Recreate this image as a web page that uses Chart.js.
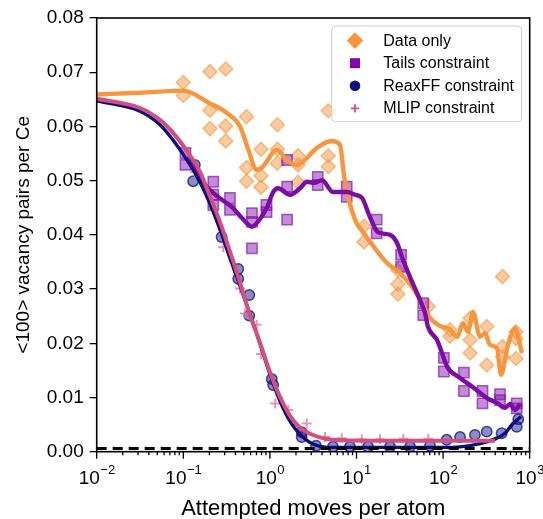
<!DOCTYPE html>
<html>
<head>
<meta charset="utf-8">
<script src="https://cdn.jsdelivr.net/npm/chart.js@4/dist/chart.umd.min.js"></script>
<style>
  html, body { margin: 0; padding: 0; background: #ffffff; }
  #wrap { width: 543px; height: 519px; }
</style>
</head>
<body>
<div id="wrap"><canvas id="VacancyChart" width="543" height="519"></canvas></div>
<script>
(function () {
  "use strict";

  // Data only (diamonds)
  const dataOnlyX = [0.1, 0.1, 0.203, 0.203, 0.203, 0.309, 0.309, 0.309, 0.537, 0.537, 0.537,
    0.789, 0.789, 0.789, 1.22, 1.22, 1.22, 2.11, 2.11, 2.11, 4.72, 4.72, 4.72, 12.2, 12.2,
    30.1, 30.1, 30.1, 67.5, 120, 120, 205, 205, 205, 319, 319, 485, 485, 485, 695, 695, 695];
  const dataOnlyY = [0.0681, 0.0657, 0.0701, 0.0630, 0.0596, 0.0706, 0.0601, 0.0573, 0.0618, 0.0524, 0.0499,
    0.0558, 0.0509, 0.0488, 0.0603, 0.0558, 0.0532, 0.0546, 0.0529, 0.0497, 0.0629, 0.0546, 0.0526, 0.0416, 0.0387,
    0.0335, 0.0309, 0.0291, 0.0268, 0.0225, 0.0213, 0.0246, 0.0206, 0.0182, 0.0231, 0.0160, 0.0323, 0.0194, 0.0175,
    0.0221, 0.0209, 0.0172];

  // Tails constraint (squares)
  const tailsX = [0.106, 0.106, 0.222, 0.222, 0.222, 0.346, 0.346, 0.621, 0.621, 0.621, 0.913, 0.913,
    1.58, 1.58, 1.58, 3.57, 3.57, 7.71, 7.71, 17.1, 17.1, 32.7, 32.7, 59.0, 59.0, 102, 102,
    174, 174, 285, 285, 454, 454, 708, 708];
  const tailsY = [0.0551, 0.0529, 0.0498, 0.0474, 0.0455, 0.0468, 0.0446, 0.0440, 0.0424, 0.0375, 0.0455, 0.0442,
    0.0538, 0.0489, 0.0428, 0.0507, 0.0492, 0.0489, 0.0470, 0.0428, 0.0403, 0.0363, 0.0341, 0.0274, 0.0252,
    0.0173, 0.0148, 0.0146, 0.0112, 0.0112, 0.0089, 0.0106, 0.0095, 0.0089, 0.0080];

  // ReaxFF constraint (circles)
  const reaxX = [0.136, 0.130, 0.277, 0.431, 0.431, 0.578, 0.578, 1.05, 1.09, 2.33, 2.33,
    3.41, 5.35, 8.41, 13.6, 24.4, 41.5, 70.6, 110, 157, 233, 319, 475, 708, 738];
  const reaxY = [0.0529, 0.0499, 0.0396, 0.0337, 0.0319, 0.0289, 0.0251, 0.0134, 0.0123, 0.0036, 0.0027,
    0.0011, 0.0009, 0.0009, 0.0009, 0.0009, 0.0009, 0.0011, 0.0022, 0.0027, 0.0031, 0.0037, 0.0034, 0.0046, 0.0060];

  // MLIP constraint (pluses)
  const mlipX = [0.136, 0.290, 0.452, 0.515, 0.705, 0.789, 1.15, 1.63, 2.66, 4.33, 6.75, 11.5, 18.7, 34.7, 67.5];
  const mlipY = [0.0516, 0.0377, 0.0301, 0.0255, 0.0234, 0.0180, 0.0089, 0.0077, 0.0052, 0.0027, 0.0025,
    0.0023, 0.0023, 0.0024, 0.0024];

  // fitted curves
  const dataOnlyFitX = [0.01, 0.0316, 0.1, 0.2, 0.317, 0.452, 0.564, 0.705, 0.832, 1.2, 1.56, 2.04, 2.41, 3.47,
    5.17, 6.45, 7.18, 8.19, 9.87, 11.9, 15.5, 22.5, 31.8, 43.8, 57.0, 70.6, 92.0, 120, 145, 170, 194, 221,
    267, 305, 348, 419, 466, 561, 676, 815];
  const dataOnlyFitY = [0.0659, 0.0662, 0.0666, 0.0643, 0.0625, 0.0600, 0.0557, 0.0520, 0.0526, 0.0557, 0.0538,
    0.0529, 0.0535, 0.0560, 0.0573, 0.0566, 0.0509, 0.0464, 0.0424, 0.0405, 0.0380, 0.0348, 0.0330, 0.0304,
    0.0274, 0.0247, 0.0232, 0.0226, 0.0212, 0.0237, 0.0221, 0.0258, 0.0212, 0.0219, 0.0197, 0.0191, 0.0142,
    0.0197, 0.0228, 0.0182];

  const tailsFitX = [0.107, 0.129, 0.188, 0.252, 0.365, 0.476, 0.621, 0.710, 0.927, 1.09, 1.24, 1.71, 2.23,
    2.68, 3.23, 4.00, 5.35, 7.77, 9.61, 11.6, 14.3, 17.7, 24.4, 29.4, 34.4, 41.5, 54.1, 61.8, 67.0, 85.1,
    97.1, 111, 157, 221, 321, 419, 519, 593, 676, 773];
  const tailsFitY = [0.0542, 0.0529, 0.0488, 0.0470, 0.0451, 0.0431, 0.0415, 0.0422, 0.0451, 0.0479, 0.0486,
    0.0474, 0.0486, 0.0498, 0.0496, 0.0501, 0.0479, 0.0479, 0.0474, 0.0468, 0.0433, 0.0405, 0.0400, 0.0385,
    0.0354, 0.0322, 0.0280, 0.0256, 0.0230, 0.0206, 0.0182, 0.0157, 0.0136, 0.0119, 0.0099, 0.0090, 0.0081,
    0.0088, 0.0077, 0.0088];

  const reaxFitX = [0.01, 0.0316, 0.0538, 0.0802, 0.119, 0.156, 0.2, 0.265, 0.346, 0.452, 0.589, 0.769, 1.00,
    1.31, 1.71, 2.23, 2.90, 3.79, 4.94, 31.8, 92, 157, 267, 419, 519, 641, 794];
  const reaxFitY = [0.0647, 0.0628, 0.0603, 0.0570, 0.0530, 0.0497, 0.0460, 0.0410, 0.0357, 0.0306, 0.0254,
    0.0199, 0.0143, 0.0093, 0.0056, 0.0032, 0.0017, 0.0010, 0.0008, 0.0008, 0.0008, 0.0009, 0.0015, 0.0025,
    0.0034, 0.0052, 0.0065];

  const mlipFitX = [0.01, 0.0316, 0.0538, 0.0802, 0.119, 0.156, 0.2, 0.265, 0.346, 0.452, 0.589, 0.769, 1.00,
    1.31, 1.71, 2.23, 2.90, 4.33, 7.37, 31.8, 397];
  const mlipFitY = [0.0651, 0.0634, 0.0612, 0.0584, 0.0547, 0.0516, 0.0474, 0.0424, 0.0369, 0.0312, 0.0252,
    0.0201, 0.0147, 0.0101, 0.0066, 0.0044, 0.0033, 0.0024, 0.0021, 0.0020, 0.0020];

  // reference level (dashed)
  const baselineX = [0.01, 1000];
  const baselineY = [0.0006, 0.0006];

  const xTickPowers = [-2, -1, 0, 1, 2, 3];
  const legendLabels = ['Data only', 'Tails constraint', 'ReaxFF constraint', 'MLIP constraint'];

  const orange = '#f7963f';
  const purple = '#7c0ca6';
  const navy = '#0d0d7d';
  const pink = '#d24f7f';
  const fontFamily = '"Liberation Sans", Arial, sans-serif';

  const pts = (xs, ys) => xs.map((x, i) => ({ x: x, y: ys[i] }));

  const fitLine = (label, xs, ys, color, width, order) => ({
    label: label,
    data: pts(xs, ys),
    showLine: true,
    pointRadius: 0,
    borderColor: color,
    borderWidth: width,
    cubicInterpolationMode: 'monotone',
    order: order
  });

  // axis ticks, tick labels, frame and legend
  const decorPlugin = {
    id: 'decor',
    afterDraw(chart) {
      const ctx = chart.ctx;
      const a = chart.chartArea;
      const xs = chart.scales.x;
      ctx.save();
      ctx.strokeStyle = '#000';
      ctx.lineWidth = 1.3;
      // minor ticks
      for (let p = -2; p <= 2; p++) {
        for (let k = 2; k <= 9; k++) {
          const px = xs.getPixelForValue(k * Math.pow(10, p));
          ctx.beginPath();
          ctx.moveTo(px, a.bottom);
          ctx.lineTo(px, a.bottom + 3.5);
          ctx.stroke();
        }
      }
      // major ticks + labels
      ctx.fillStyle = '#000';
      ctx.textBaseline = 'alphabetic';
      ctx.textAlign = 'left';
      xTickPowers.forEach(p => {
        const px = xs.getPixelForValue(Math.pow(10, p));
        ctx.beginPath();
        ctx.moveTo(px, a.bottom);
        ctx.lineTo(px, a.bottom + 7);
        ctx.stroke();
        const exp = p < 0 ? '\u2212' + (-p) : String(p);
        ctx.font = '19px ' + fontFamily;
        const w1 = ctx.measureText('10').width;
        ctx.font = '13px ' + fontFamily;
        const w2 = ctx.measureText(exp).width;
        const x0 = px - (w1 + w2) / 2;
        ctx.font = '19px ' + fontFamily;
        ctx.fillText('10', x0, 484);
        ctx.font = '13px ' + fontFamily;
        ctx.fillText(exp, x0 + w1 + 0.5, 474);
      });
      // frame
      ctx.lineWidth = 1.6;
      ctx.strokeRect(a.left, a.top, a.right - a.left, a.bottom - a.top);

      // legend
      const bx = 331.7, by = 26, bw = 190, bh = 95.7, r = 4;
      ctx.beginPath();
      ctx.moveTo(bx + r, by);
      ctx.arcTo(bx + bw, by, bx + bw, by + bh, r);
      ctx.arcTo(bx + bw, by + bh, bx, by + bh, r);
      ctx.arcTo(bx, by + bh, bx, by, r);
      ctx.arcTo(bx, by, bx + bw, by, r);
      ctx.closePath();
      ctx.fillStyle = 'rgba(255,255,255,0.8)';
      ctx.fill();
      ctx.lineWidth = 1;
      ctx.strokeStyle = '#cccccc';
      ctx.stroke();

      const mx = 355;
      legendLabels.forEach((label, i) => {
        const my = 40.6 + i * 22.6;
        ctx.beginPath();
        if (i === 0) {
          ctx.fillStyle = orange;
          ctx.moveTo(mx, my - 8.3);
          ctx.lineTo(mx + 8.3, my);
          ctx.lineTo(mx, my + 8.3);
          ctx.lineTo(mx - 8.3, my);
          ctx.closePath();
          ctx.fill();
        } else if (i === 1) {
          ctx.fillStyle = '#8006a8';
          ctx.fillRect(mx - 5, my - 5, 10, 10);
        } else if (i === 2) {
          ctx.fillStyle = navy;
          ctx.arc(mx, my, 5.3, 0, Math.PI * 2);
          ctx.fill();
        } else {
          ctx.strokeStyle = pink;
          ctx.lineWidth = 1.8;
          ctx.moveTo(mx - 4.2, my);
          ctx.lineTo(mx + 4.2, my);
          ctx.moveTo(mx, my - 4.2);
          ctx.lineTo(mx, my + 4.2);
          ctx.stroke();
        }
        ctx.fillStyle = '#000';
        ctx.font = '16px ' + fontFamily;
        ctx.textBaseline = 'middle';
        ctx.fillText(label, 383.3, my + 0.5);
      });
      ctx.restore();
    }
  };

  const chart_el = document.getElementById('VacancyChart');
  new Chart(chart_el, {
    type: 'scatter',
    data: {
      datasets: [
        {
          label: 'Data only',
          data: pts(dataOnlyX, dataOnlyY),
          pointStyle: 'rectRot',
          pointRadius: 7,
          pointBorderWidth: 1.5,
          backgroundColor: 'rgba(248,154,70,0.5)',
          borderColor: 'rgba(248,154,70,0.65)',
          order: 10
        },
        {
          label: 'Tails constraint',
          data: pts(tailsX, tailsY),
          pointStyle: 'rect',
          pointRadius: 7.3,
          pointBorderWidth: 1.5,
          backgroundColor: 'rgba(135,25,175,0.5)',
          borderColor: 'rgba(125,15,165,0.65)',
          order: 9
        },
        {
          label: 'ReaxFF constraint',
          data: pts(reaxX, reaxY),
          pointStyle: 'circle',
          pointRadius: 5.2,
          pointBorderWidth: 1.5,
          backgroundColor: 'rgba(25,25,140,0.5)',
          borderColor: 'rgba(13,13,125,0.75)',
          order: 8
        },
        {
          label: 'MLIP constraint',
          data: pts(mlipX, mlipY),
          pointStyle: 'cross',
          pointRadius: 5,
          pointBorderWidth: 2,
          borderColor: 'rgba(220,115,160,0.75)',
          order: 7
        },
        fitLine('Data only fit', dataOnlyFitX, dataOnlyFitY, orange, 4.4, 6),
        fitLine('Tails fit', tailsFitX, tailsFitY, purple, 4.4, 5),
        fitLine('ReaxFF fit', reaxFitX, reaxFitY, navy, 3.4, 4),
        {
          label: 'Baseline',
          data: pts(baselineX, baselineY),
          showLine: true,
          pointRadius: 0,
          borderColor: '#000',
          borderWidth: 3,
          borderDash: [10, 6],
          order: 3
        },
        fitLine('MLIP fit', mlipFitX, mlipFitY, pink, 4, 2)
      ]
    },
    options: {
      responsive: false,
      animation: false,
      events: [],
      layout: { padding: { left: 0, top: 18, right: 13.3, bottom: 0 } },
      plugins: {
        legend: { display: false },
        tooltip: { enabled: false }
      },
      scales: {
        x: {
          type: 'logarithmic',
          min: 0.01,
          max: 1000,
          grid: { display: false },
          border: { display: false },
          ticks: { display: false },
          title: {
            display: true,
            text: 'Attempted moves per atom',
            color: '#000',
            font: { family: fontFamily, size: 22, lineHeight: 0.9 },
            padding: { top: 0, bottom: 0 }
          },
          afterFit: s => { s.height = 67.3; }
        },
        y: {
          min: 0,
          max: 0.08,
          grid: {
            display: true,
            drawOnChartArea: false,
            drawTicks: true,
            tickLength: 7,
            color: '#000',
            lineWidth: 1.3
          },
          border: { display: false },
          ticks: {
            stepSize: 0.01,
            padding: 6,
            color: '#000',
            font: { family: fontFamily, size: 19 },
            callback: v => v.toFixed(2)
          },
          title: {
            display: true,
            text: '<100> vacancy pairs per Ce',
            color: '#000',
            font: { family: fontFamily, size: 19 },
            padding: { top: 12, bottom: 0 }
          },
          afterFit: s => { s.width = 96.7; }
        }
      }
    },
    plugins: [decorPlugin]
  });
})();
</script>
</body>
</html>
